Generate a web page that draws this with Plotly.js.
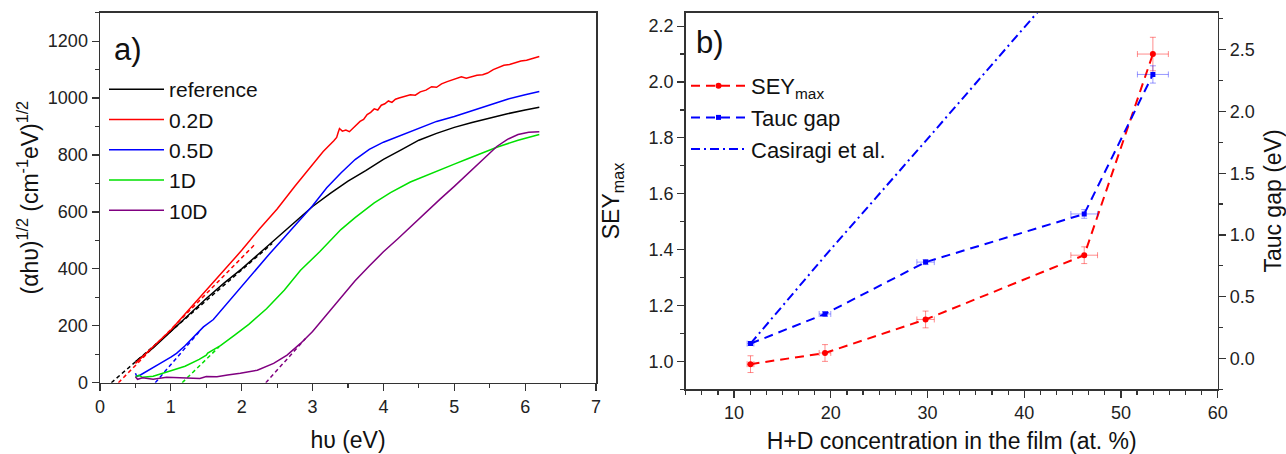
<!DOCTYPE html>
<html>
<head>
<meta charset="utf-8">
<script src="https://cdn.plot.ly/plotly-3.0.1.min.js"></script>
<style>html,body{margin:0;padding:0;background:#fff;}#chart{width:1286px;height:454px;}</style>
</head>
<body>
<div id="chart"></div>
<script>
// ---------- Panel a) : Tauc plots ----------
const seriesNames = ['reference', '0.2D', '0.5D', '1D', '10D'];

const refE = [0.5,0.75,1.0,1.25,1.5,1.75,2.0,2.25,2.5,2.75,3.0,3.25,3.5,3.75,4.0,4.25,4.5,4.75,5.0,5.25,5.5,5.75,6.0,6.2];
const refY = [74,122,180,238,296,350,400,455,510,566,619,665,708,745,785,818,852,876,897,914,930,945,958,968];

const redE = [0.5,0.75,1.0,1.25,1.5,1.75,2.0,2.25,2.5,2.75,3.0,3.15,3.3,3.34,3.36,3.38,3.42,3.47,3.52,3.57,3.62,3.67,3.72,3.77,3.82,3.87,3.92,3.97,4.02,4.07,4.12,4.17,4.22,4.3,4.38,4.45,4.52,4.6,4.68,4.75,4.82,4.9,4.97,5.04,5.1,5.17,5.25,5.32,5.4,5.47,5.55,5.62,5.7,5.78,5.86,5.94,6.02,6.1,6.2];
const redY = [68,125,185,255,325,393,465,540,610,690,765,812,850,862,878,893,884,888,882,893,905,918,925,942,950,962,958,975,980,990,985,996,1000,1005,1012,1010,1022,1028,1040,1038,1050,1058,1063,1068,1075,1070,1076,1080,1082,1088,1100,1108,1115,1118,1125,1130,1133,1140,1146];

const blueE = [0.5,0.52,0.57,0.7,0.85,1.0,1.08,1.2,1.37,1.42,1.46,1.6,1.8,2.0,2.2,2.4,2.6,2.8,3.0,3.2,3.4,3.6,3.8,4.0,4.25,4.5,4.75,5.0,5.25,5.5,5.75,6.0,6.2];
const blueY = [33,22,27,45,68,90,103,130,172,185,196,222,280,340,395,455,510,565,622,685,737,784,820,845,870,893,918,935,955,975,996,1012,1023];

const greenE = [0.5,0.55,0.6,0.75,1.0,1.2,1.4,1.5,1.52,1.7,1.9,2.1,2.35,2.6,2.83,3.1,3.4,3.6,3.87,4.1,4.38,4.71,5.0,5.19,5.4,5.61,5.9,6.2];
const greenY = [21,26,19,23,42,58,82,97,104,130,167,205,260,325,395,460,538,580,632,668,705,740,768,787,808,828,852,872];

const purpleE = [0.5,0.53,0.6,0.75,0.94,1.1,1.23,1.41,1.5,1.65,1.8,1.98,2.22,2.45,2.64,2.83,3.0,3.2,3.4,3.6,3.8,4.0,4.2,4.4,4.6,4.8,5.0,5.2,5.4,5.6,5.75,5.9,6.05,6.2];
const purpleY = [21,12,17,12,19,17,15,15,22,21,27,33,44,68,97,138,180,240,300,358,410,460,505,552,600,645,690,737,785,830,855,872,880,882];

// linear Tauc fits (dashed)
const fitRefE = [0.16, 2.43],   fitRefY = [0, 489];
const fitRedE = [0.26, 2.19],   fitRedY = [0, 487];
const fitBlueE = [0.78, 1.42],  fitBlueY = [0, 185];
const fitGreenE = [1.16, 1.68], fitGreenY = [0, 126];
const fitPurpleE = [2.34, 2.90], fitPurpleY = [0, 155];

// ---------- Panel b) ----------
const hdConc   = [11.7, 19.4, 29.8, 46.2, 53.3];
const hdErr    = [0.35, 0.6, 0.9, 1.38, 1.6];
const seyMax   = [0.99, 1.03, 1.15, 1.38, 2.10];
const seyErr   = [0.03, 0.03, 0.03, 0.03, 0.06];
const taucGap  = [0.12, 0.36, 0.78, 1.17, 2.30];
const taucErr  = [0.015, 0.02, 0.02, 0.035, 0.07];
const casiragiConc = [11.7, 19.4, 29.8, 46.2];
const casiragiGap  = [0.12, 0.83, 1.76, 3.24];

const colors = ['#000000', '#ff0000', '#0000ff', '#00e000', '#800080'];
const FONT = 'Liberation Sans, Arial, sans-serif';

const curves = [[refE, refY], [redE, redY], [blueE, blueY], [greenE, greenY], [purpleE, purpleY]];
const fits = [[fitRefE, fitRefY], [fitRedE, fitRedY], [fitBlueE, fitBlueY], [fitGreenE, fitGreenY], [fitPurpleE, fitPurpleY]];

const traces = [];
fits.forEach((f, i) => {
  traces.push({x: f[0], y: f[1], mode: 'lines', xaxis: 'x', yaxis: 'y', showlegend: false,
    line: {color: colors[i], width: 1.5, dash: '4px,3px'}, hoverinfo: 'skip'});
});
curves.forEach((c, i) => {
  traces.push({x: c[0], y: c[1], mode: 'lines', name: seriesNames[i], xaxis: 'x', yaxis: 'y',
    legend: 'legend', line: {color: colors[i], width: 1.5}});
});

traces.push({x: casiragiConc, y: casiragiGap, mode: 'lines', name: 'Casiragi et al.', xaxis: 'x2', yaxis: 'y3',
  legend: 'legend2', legendrank: 3, line: {color: '#0000ff', width: 2, dash: '9px,4px,2px,4px'}});
traces.push({x: hdConc, y: taucGap, mode: 'lines+markers', name: 'Tauc gap', xaxis: 'x2', yaxis: 'y3',
  legend: 'legend2', legendrank: 2,
  line: {color: '#0000ff', width: 2, dash: '9px,6px'}, marker: {symbol: 'square', size: 5, color: '#0000ff'},
  error_x: {type: 'data', array: hdErr, color: 'rgba(0,0,255,0.4)', thickness: 1, width: 3},
  error_y: {type: 'data', array: taucErr, color: 'rgba(0,0,255,0.4)', thickness: 1, width: 3}});
traces.push({x: hdConc, y: seyMax, mode: 'lines+markers', name: 'SEY<sub>max</sub>', xaxis: 'x2', yaxis: 'y2',
  legend: 'legend2', legendrank: 1,
  line: {color: '#ff0000', width: 2, dash: '9px,6px'}, marker: {symbol: 'circle', size: 6, color: '#ff0000'},
  error_x: {type: 'data', array: hdErr, color: 'rgba(255,0,0,0.45)', thickness: 1, width: 3},
  error_y: {type: 'data', array: seyErr, color: 'rgba(255,0,0,0.45)', thickness: 1, width: 3}});

const W = 1286, H = 454;
const axBase = {
  showgrid: false, zeroline: false, showline: true, linecolor: '#333', linewidth: 1.5, mirror: true,
  ticks: 'outside', ticklen: 7, tickwidth: 1.2, tickcolor: '#333',
  tickfont: {family: FONT, size: 18, color: '#222'},
  title: {font: {family: FONT, size: 23, color: '#111'}}
};
function ax(extra) { return Object.assign(JSON.parse(JSON.stringify(axBase)), extra); }

const layout = {
  width: W, height: H, margin: {l: 0, r: 0, t: 0, b: 0},
  paper_bgcolor: '#fff', plot_bgcolor: '#fff',
  font: {family: FONT, color: '#111'},
  xaxis: ax({domain: [100/W, 596/W], range: [0, 7], dtick: 1, tick0: 0, anchor: 'y',
    minor: {dtick: 0.5, ticklen: 4, ticks: 'outside', tickcolor: '#333'},
    title: {text: 'h\u03C5 (eV)', font: {family: FONT, size: 23, color: '#111'}, standoff: 16}}),
  yaxis: ax({domain: [(H-382.7)/H, (H-12.7)/H], range: [0, 1300], dtick: 200, tick0: 0, anchor: 'x',
    minor: {dtick: 100, ticklen: 4, ticks: 'outside', tickcolor: '#333'},
    title: {text: '(\u03B1h\u03C5)<sup>1/2</sup> (cm<sup>-1</sup>eV)<sup>1/2</sup>', font: {family: FONT, size: 23, color: '#111'}, standoff: 3}}),
  xaxis2: ax({domain: [685.7/W, 1217.7/W], range: [5, 60], dtick: 10, tick0: 0, anchor: 'y2',
    minor: {dtick: 10/6, ticklen: 4, ticks: 'outside', tickcolor: '#333'},
    title: {text: 'H+D concentration in the film (at. %)', font: {family: FONT, size: 23, color: '#111'}, standoff: 16}}),
  yaxis2: ax({domain: [(H-389.3)/H, (H-12.7)/H], range: [0.9, 2.248], dtick: 0.2, tick0: 0, tickformat: '.1f', anchor: 'x2',
    mirror: false,
    minor: {dtick: 0.1, ticklen: 4, ticks: 'outside', tickcolor: '#333'},
    title: {text: 'SEY<sub>max</sub>', font: {family: FONT, size: 23, color: '#111'}, standoff: 22}}),
  yaxis3: ax({domain: [(H-389.3)/H, (H-12.7)/H], range: [-0.25, 2.8], dtick: 0.5, tick0: 0, tickformat: '.1f',
    overlaying: 'y2', side: 'right', anchor: 'x2', mirror: false,
    minor: {dtick: 0.25, ticklen: 4, ticks: 'outside', tickcolor: '#333'},
    title: {text: 'Tauc gap (eV)', font: {family: FONT, size: 23, color: '#111'}, standoff: 14}}),
  legend: {x: 104/W, y: 1 - 69/H, xanchor: 'left', yanchor: 'top', bgcolor: 'rgba(0,0,0,0)',
    font: {family: FONT, size: 21, color: '#111'}, itemwidth: 55, tracegroupgap: 0, borderwidth: 0},
  legend2: {x: 686/W, y: 1 - 65/H, xanchor: 'left', yanchor: 'top', bgcolor: 'rgba(0,0,0,0)',
    font: {family: FONT, size: 22, color: '#111'}, itemwidth: 55, tracegroupgap: 0, borderwidth: 0},
  annotations: [
    {text: 'a)', xref: 'paper', yref: 'paper', x: 112/W, y: 1 - 49/H, xanchor: 'left', yanchor: 'middle',
     showarrow: false, font: {family: FONT, size: 31, color: '#111'}},
    {text: 'b)', xref: 'paper', yref: 'paper', x: 694/W, y: 1 - 42/H, xanchor: 'left', yanchor: 'middle',
     showarrow: false, font: {family: FONT, size: 31, color: '#111'}}
  ],
  showlegend: true
};

Plotly.newPlot('chart', traces, layout, {displayModeBar: false, staticPlot: true});
</script>
</body>
</html>
